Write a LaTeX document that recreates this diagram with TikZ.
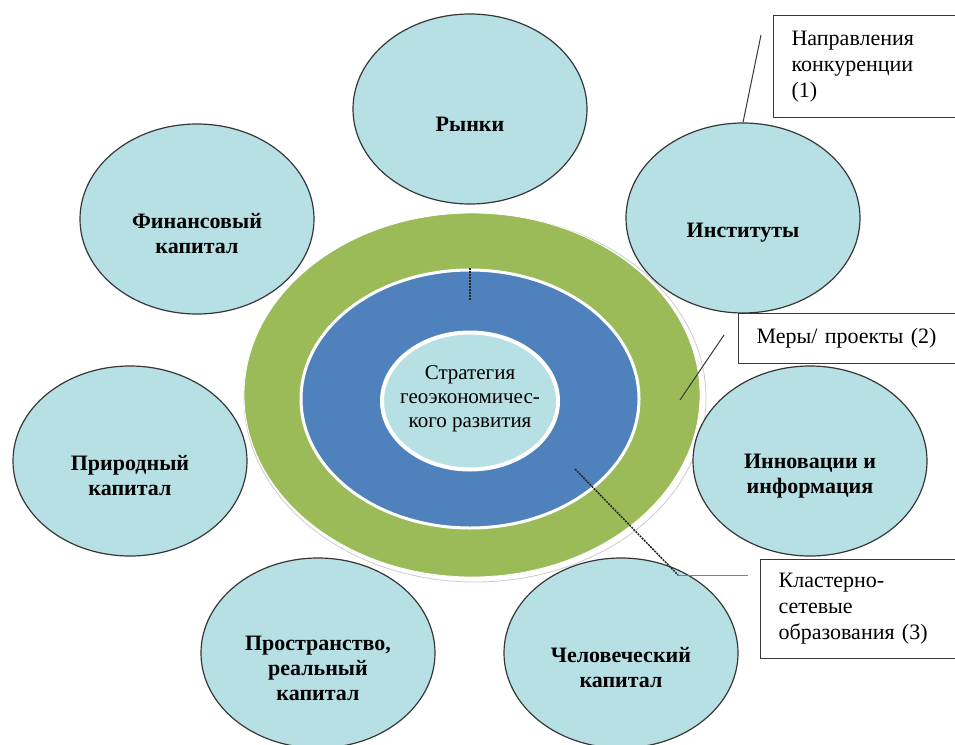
\documentclass[tikz,border=0pt]{standalone}
\usepackage{fontspec}
\setmainfont{Liberation Serif}
\usetikzlibrary{shapes}
\definecolor{kapfill}{RGB}{183,224,228}
\definecolor{ringgreen}{RGB}{155,187,89}
\definecolor{ringblue}{RGB}{79,129,189}
\definecolor{edgegray}{RGB}{55,55,55}
\tikzset{
	kap/.style = {ellipse, draw=edgegray, line width=1.2pt, fill=kapfill,
		minimum width=234pt, minimum height=190pt, inner sep=0pt},% ellipse du capital
	kaptext/.style = {align=center, inner sep=0pt,
		font=\fontsize{22}{25}\selectfont\bfseries},% texte gras
	ring/.style = {ellipse, inner sep=0pt, draw=white},% anneaux du centre
	notebox/.style = {rectangle, draw=edgegray, line width=1.2pt, fill=white,
		anchor=north west, align=left, text width=190pt, inner xsep=18pt,
		font=\fontsize{22}{26}\selectfont},% note a droite
	leader/.style = {draw=edgegray, line width=1pt},
	dotleader/.style = {draw=black!85, line width=1.5pt, dash pattern=on 2pt off 1pt}
}

\begin{document}
\begin{tikzpicture}[x=1pt,y=-1pt]
	\clip (0,0) rectangle (955,744);
	\fill[white] (0,0) rectangle (955,744);
	% anneaux
	\node[ring, draw=gray!40, line width=0.8pt, minimum width=462pt, minimum height=368pt] (halo) at (475,398) {};
	\node[ring, fill=ringgreen, line width=0.8pt, minimum width=456pt, minimum height=364pt] (mery) at (472,395) {};
	\node[ring, fill=ringblue, line width=3pt, minimum width=338pt, minimum height=258pt] (klaster) at (470,399) {};
	\node[ring, fill=kapfill, line width=4pt, minimum width=176pt, minimum height=137pt] (strat) at (470,401) {};
	\node[align=center, font=\fontsize{21}{24}\selectfont] (strat-t) at (470,399)
		{Стратегия\\геоэкономичес-\\кого развития};
	% capitaux
	\node[kap] (rynki) at (470,109) {};
	\node[kap] (fin) at (197,219) {};
	\node[kap] (inst) at (743,218) {};
	\node[kap] (prir) at (130,461) {};
	\node[kap] (innov) at (810,461) {};
	\node[kap] (prostr) at (318,653) {};
	\node[kap] (chel) at (621,653) {};
	\node[kaptext] (rynki-t) at ([yshift=-15pt]rynki.center) {Рынки};
	\node[kaptext] (fin-t) at ([yshift=-15pt]fin.center) {Финансовый\\капитал};
	\node[kaptext] (inst-t) at ([yshift=-15pt]inst.center) {Институты};
	\node[kaptext] (prir-t) at ([yshift=-15pt]prir.center) {Природный\\капитал};
	\node[kaptext] (innov-t) at ([yshift=-15pt]innov.center) {Инновации и\\информация};
	\node[kaptext] (prostr-t) at ([yshift=-15pt]prostr.center) {Пространство,\\реальный\\капитал};
	\node[kaptext] (chel-t) at ([yshift=-15pt]chel.center) {Человеческий\\капитал};
	% notes
	\node[notebox, minimum height=102pt] (note1) at (773,15)
		{Направления\\конкуренции\\(1)};
	\node[notebox, minimum height=50pt] (note2) at (738,313)
		{Меры/ проекты (2)};
	\node[notebox, minimum height=99pt] (note3) at (760,559)
		{Кластерно-\\сетевые\\образования (3)};
	\coordinate (l1a) at (761,35);
	\coordinate (l2a) at (724,335);
	\coordinate (l2b) at (680,400);
	\coordinate (l3a) at (575,469);
	\coordinate (l3b) at (678,575);
	\coordinate (l3c) at (748,575);
	\coordinate (d1) at (470,268);
	\coordinate (d2) at (470,300);
	\draw[leader] (l1a) -- (inst.north);
	\draw[leader] (l2a) -- (l2b);
	\draw[dotleader] (l3a) -- (l3b);
	\draw[leader, draw=gray] (l3b) -- (l3c);
	\draw[dotleader] (d1) -- (d2);
\end{tikzpicture}
\end{document}
